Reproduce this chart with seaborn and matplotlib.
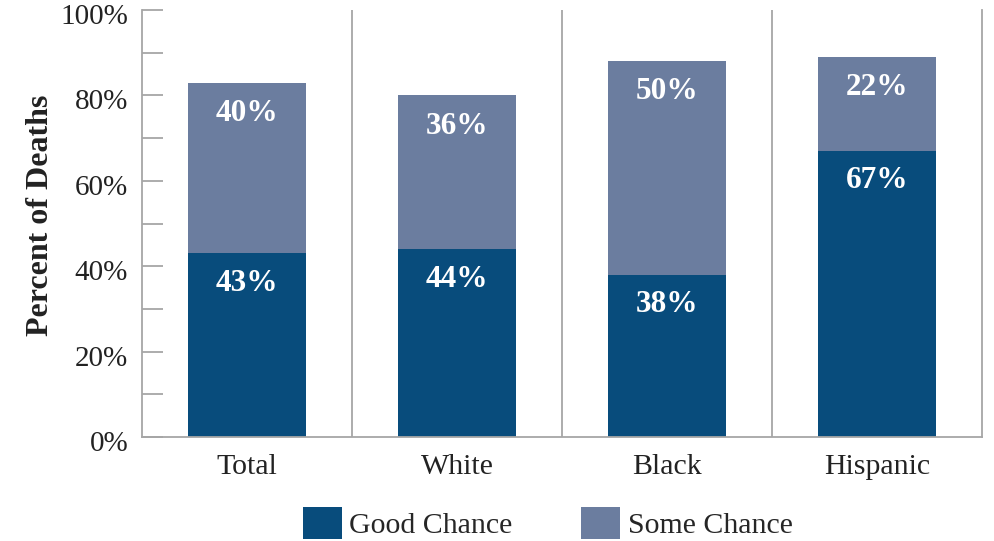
import matplotlib
matplotlib.use("Agg")
import matplotlib.pyplot as plt
import matplotlib.transforms as mtransforms
import seaborn as sns
import pandas as pd
import numpy as np
from matplotlib.patches import Patch

categories = ["Total", "White", "Black", "Hispanic"]
good_chance = [43, 44, 38, 67]
some_chance = [40, 36, 50, 22]
series_names = ["Good Chance", "Some Chance"]
y_ticks = [0, 20, 40, 60, 80, 100]
y_tick_labels = ["0%", "20%", "40%", "60%", "80%", "100%"]

DARK = "#084c7c"
LIGHT = "#6b7d9f"
GREY = "#a6a6a6"

sns.set_theme(style="white")
plt.rcParams["font.family"] = ["Liberation Serif", "DejaVu Serif"]

df = pd.DataFrame({"category": categories, "good": good_chance, "some": some_chance})
df["total"] = df["good"] + df["some"]

fig = plt.figure(figsize=(9.94, 5.41), dpi=100)
ax = fig.add_axes([0.1429, 0.1922, 0.988 - 0.1429, 0.9815 - 0.1922])

sns.barplot(data=df, x="category", y="some", bottom=df["good"], color=LIGHT,
            width=0.56, ax=ax, saturation=1, linewidth=0)
sns.barplot(data=df, x="category", y="good", color=DARK,
            width=0.56, ax=ax, saturation=1, linewidth=0)

for i, row in df.iterrows():
    ax.text(i, row["good"] - 7.0, f"{row['good']}%", ha="center", va="center",
            color="white", fontsize=22.5, fontweight="bold")
    ax.text(i, row["total"] - 7.2, f"{row['some']}%", ha="center", va="center",
            color="white", fontsize=22.5, fontweight="bold")

n = len(categories)
for k in range(1, n):
    ax.axvline(k - 0.5, color=GREY, lw=1.3, zorder=0)

ax.set_xlim(-0.5, n - 0.5)
ax.set_ylim(0, 100)
ax.set_yticks(y_ticks)
ax.set_yticklabels(y_tick_labels, fontsize=21, color="#222222")
ax.set_yticks(np.arange(10, 100, 20), minor=True)
ax.tick_params(axis="y", which="both", direction="in", length=15, width=1.3,
               color=GREY, pad=10, left=True)
ax.tick_params(axis="x", length=0, pad=12, labelsize=21.5, labelcolor="#222222")
ax.set_xlabel("")
ax.set_ylabel("Percent of Deaths", fontsize=23, fontweight="bold", color="#222222", labelpad=4)
ax.yaxis.label.set_y(0.52)

shift = mtransforms.ScaledTranslation(0, -4 / 100, fig.dpi_scale_trans)
for lbl in ax.get_yticklabels():
    lbl.set_transform(lbl.get_transform() + shift)

for s in ["left", "bottom", "right"]:
    ax.spines[s].set_visible(True)
    ax.spines[s].set_color(GREY)
    ax.spines[s].set_linewidth(1.3)
ax.spines["top"].set_visible(False)

handles = [Patch(facecolor=DARK, edgecolor="none", label=series_names[0]),
           Patch(facecolor=LIGHT, edgecolor="none", label=series_names[1])]
fig.legend(handles=handles, loc="center", bbox_to_anchor=(0.551, 0.033), ncol=2,
           frameon=False, fontsize=21.5, handlelength=1.3, handleheight=1.3,
           columnspacing=2.3, handletextpad=0.25, borderpad=0)

fig.savefig("out.png", dpi=100)
